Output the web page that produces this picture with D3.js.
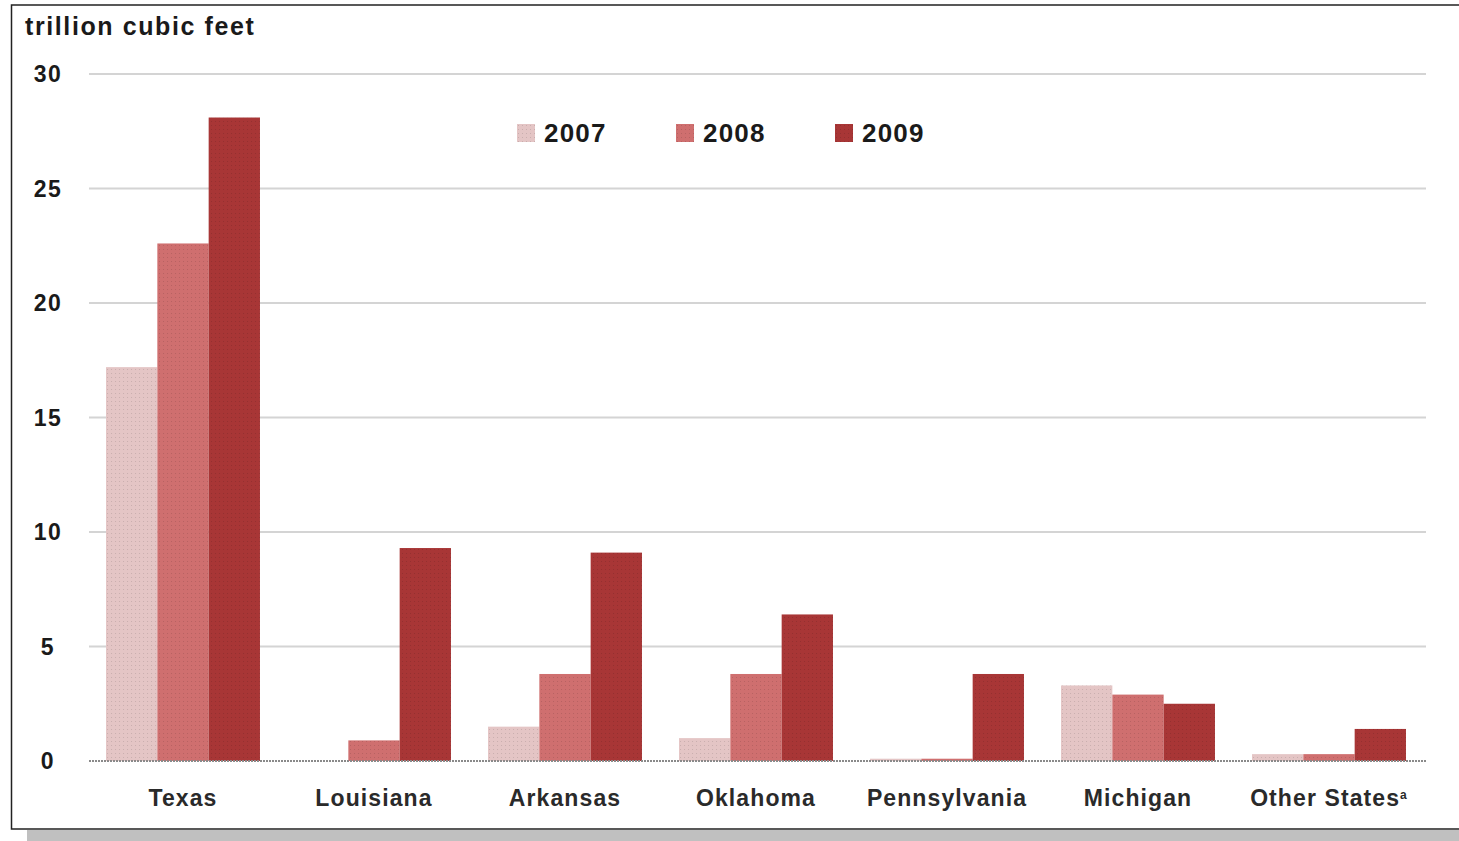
<!DOCTYPE html>
<html>
<head>
<meta charset="utf-8">
<script src="https://cdn.jsdelivr.net/npm/d3@7"></script>
<style>
  body { margin: 0; background: #fff; }
  text { font-family: "Liberation Sans", Arial, sans-serif; fill: #1a1a1a; font-weight: bold; }
</style>
</head>
<body>
<script>
// data
var states = ["Texas", "Louisiana", "Arkansas", "Oklahoma", "Pennsylvania", "Michigan", "Other States"];
var years = ["2007", "2008", "2009"];
var v2007 = [17.2, 0.0, 1.5, 1.0, 0.1, 3.3, 0.3];
var v2008 = [22.6, 0.9, 3.8, 3.8, 0.1, 2.9, 0.3];
var v2009 = [28.1, 9.3, 9.1, 6.4, 3.8, 2.5, 1.4];
var yTicks = [0, 5, 10, 15, 20, 25, 30];
var colors = ["#e4c5c5", "#cf6f6f", "#a83636"];

var W = 1459, H = 841;
var plotL = 89, plotR = 1426, plotT = 74, plotB = 761;

var svg = d3.select("body").append("svg")
  .attr("width", W)
  .attr("height", H);

// patterned fills to mimic the dotted textures
var defs = svg.append("defs");
years.forEach(function (yr, i) {
  var p = defs.append("pattern")
    .attr("id", "pat" + yr)
    .attr("width", 4).attr("height", 4)
    .attr("patternUnits", "userSpaceOnUse");
  p.append("rect").attr("width", 4).attr("height", 4).attr("fill", colors[i]);
  p.append("rect").attr("x", 1).attr("y", 1).attr("width", 1).attr("height", 1)
    .attr("fill", d3.color(colors[i]).darker(0.35));
});

// shadow + frame
svg.append("rect")
  .attr("x", 27).attr("y", 830).attr("width", W - 27).attr("height", 11)
  .attr("fill", "#c0c0c0");
svg.append("path")
  .attr("d", "M" + (W + 2) + ",5 H11.5 V829 H" + (W + 2))
  .attr("fill", "none").attr("stroke", "#222").attr("stroke-width", 1.5);

var y = d3.scaleLinear().domain([0, 30]).range([plotB, plotT]);
var x0 = d3.scaleBand().domain(states).range([plotL - 1.5, plotR - 1.5])
  .paddingInner(0.194).paddingOuter(0.097);
var x1 = d3.scaleBand().domain(years).range([0, x0.bandwidth()]);

// gridlines
svg.append("g").selectAll("line")
  .data(yTicks.filter(function (d) { return d > 0; }))
  .enter().append("line")
  .attr("x1", plotL).attr("x2", plotR)
  .attr("y1", function (d) { return y(d); })
  .attr("y2", function (d) { return y(d); })
  .attr("stroke", "#d4d4d4").attr("stroke-width", 2);

// y tick labels
svg.append("g").selectAll("text")
  .data(yTicks)
  .enter().append("text")
  .attr("x", 48)
  .attr("y", function (d) { return y(d); })
  .attr("dy", "0.36em")
  .attr("text-anchor", "middle")
  .style("font-size", "23px")
  .style("letter-spacing", "1.5px")
  .text(function (d) { return d; });

// title
svg.append("text")
  .attr("x", 25).attr("y", 35)
  .style("font-size", "25px")
  .style("letter-spacing", "1.6px")
  .text("trillion cubic feet");

// bars
var series = [v2007, v2008, v2009];
var groups = svg.append("g").selectAll("g")
  .data(states)
  .enter().append("g")
  .attr("transform", function (d) { return "translate(" + x0(d) + ",0)"; });

groups.selectAll("rect")
  .data(function (d, i) {
    return years.map(function (yr, j) { return { year: yr, value: series[j][i] }; });
  })
  .enter().append("rect")
  .attr("x", function (d) { return x1(d.year); })
  .attr("width", x1.bandwidth())
  .attr("y", function (d) { return y(d.value); })
  .attr("height", function (d) { return plotB - y(d.value); })
  .attr("fill", function (d) { return "url(#pat" + d.year + ")"; });

// zero line (dotted)
svg.append("line")
  .attr("x1", plotL).attr("x2", plotR)
  .attr("y1", plotB).attr("y2", plotB)
  .attr("stroke", "#8a8a8a").attr("stroke-width", 2)
  .attr("stroke-dasharray", "2,1");

// category labels
var xl = svg.append("g").selectAll("text")
  .data(states)
  .enter().append("text")
  .attr("x", function (d) { return x0(d) + x0.bandwidth() / 2; })
  .attr("y", 806)
  .attr("text-anchor", "middle")
  .style("font-size", "23px")
  .style("letter-spacing", "1.1px")
  .style("fill", "#2a2a2a")
  .text(function (d) { return d; });
xl.filter(function (d) { return d === "Other States"; })
  .append("tspan")
  .attr("dy", "-0.55em")
  .style("font-size", "12px")
  .text("a");

// legend
var legendX = [517, 676, 835];
var legend = svg.append("g").selectAll("g")
  .data(years)
  .enter().append("g")
  .attr("transform", function (d, i) { return "translate(" + legendX[i] + ",124)"; });
legend.append("rect")
  .attr("width", 18).attr("height", 18)
  .attr("fill", function (d) { return "url(#pat" + d + ")"; });
legend.append("text")
  .attr("x", 27).attr("y", 9)
  .attr("dy", "0.36em")
  .style("font-size", "26px")
  .style("letter-spacing", "1.2px")
  .text(function (d) { return d; });
</script>
</body>
</html>
